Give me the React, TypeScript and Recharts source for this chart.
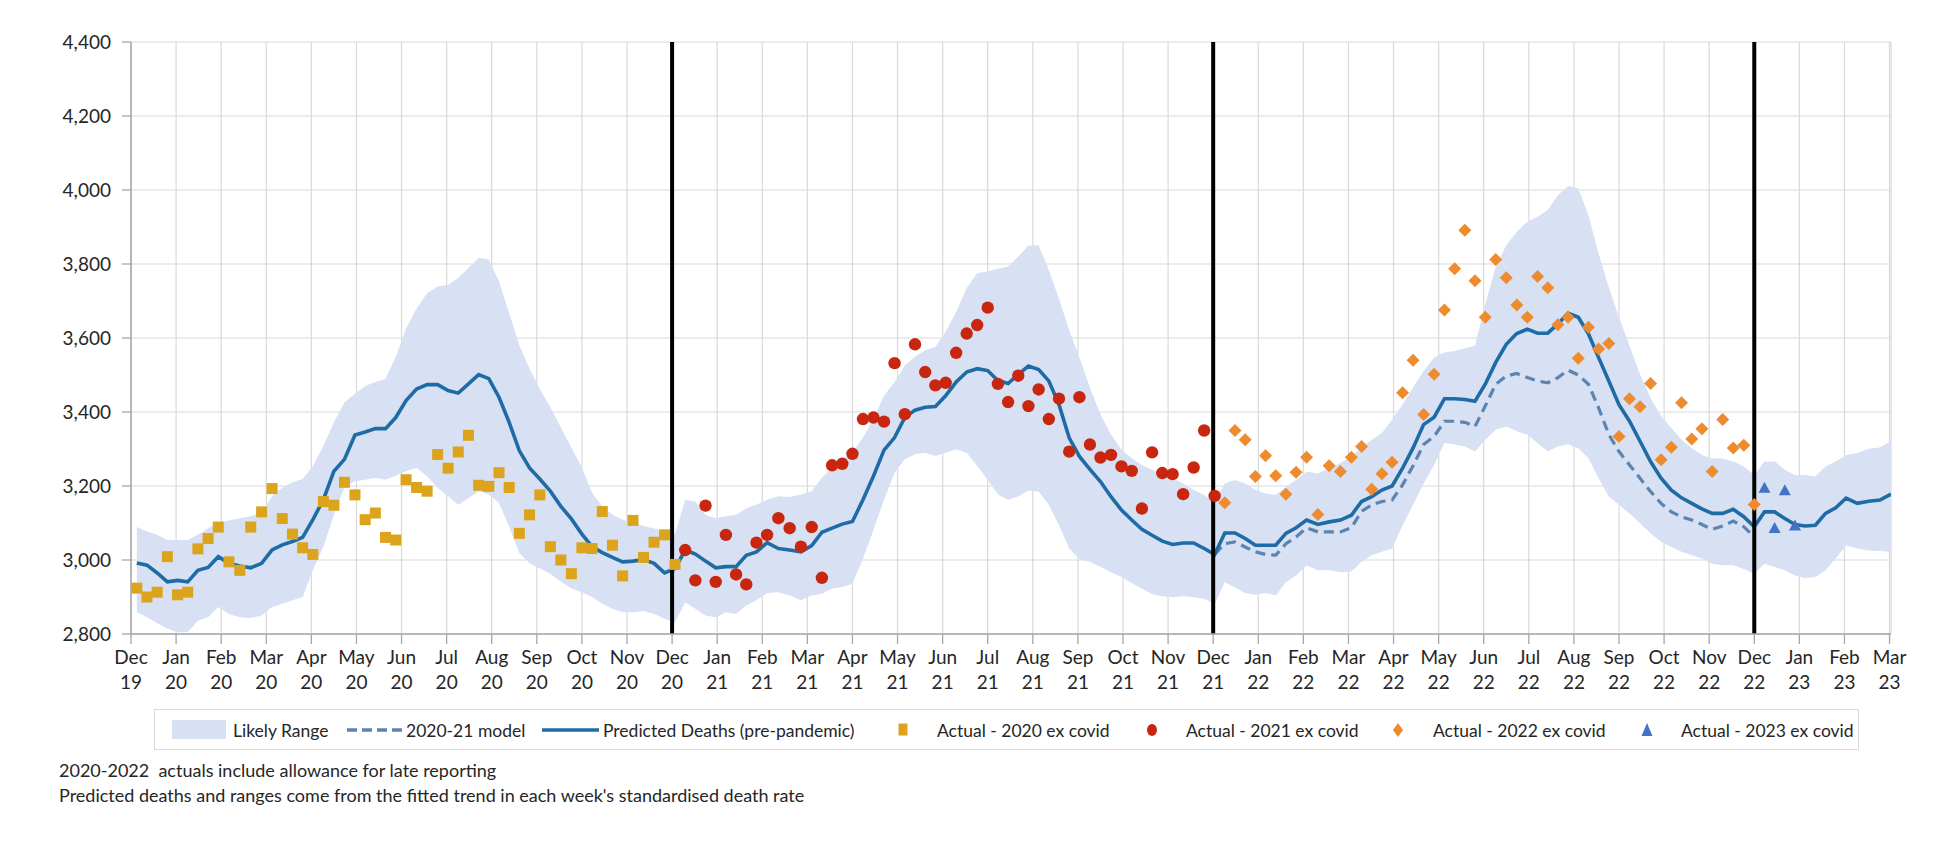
import React from 'react';
import { ComposedChart, Area, Line, Scatter, XAxis, YAxis, CartesianGrid, ReferenceLine } from 'recharts';

const FONT = "Lato, 'Noto Sans', sans-serif";

// Tick labels (one per month, Dec 2019 .. Mar 2023)
const TICK_MONTHS = [
  'Dec', 'Jan', 'Feb', 'Mar', 'Apr', 'May', 'Jun', 'Jul', 'Aug', 'Sep', 'Oct', 'Nov',
  'Dec', 'Jan', 'Feb', 'Mar', 'Apr', 'May', 'Jun', 'Jul', 'Aug', 'Sep', 'Oct', 'Nov',
  'Dec', 'Jan', 'Feb', 'Mar', 'Apr', 'May', 'Jun', 'Jul', 'Aug', 'Sep', 'Oct', 'Nov',
  'Dec', 'Jan', 'Feb', 'Mar',
];
const TICK_YEARS = [
  '19', '20', '20', '20', '20', '20', '20', '20', '20', '20', '20', '20',
  '20', '21', '21', '21', '21', '21', '21', '21', '21', '21', '21', '21',
  '21', '22', '22', '22', '22', '22', '22', '22', '22', '22', '22', '22',
  '22', '23', '23', '23',
];
const Y_TICKS = [2800, 3000, 3200, 3400, 3600, 3800, 4000, 4200, 4400];
const YEAR_BREAK_TICKS = [12, 24, 36]; // Dec 20, Dec 21, Dec 22

// First plotted week (UTC date), then one value per week
const FIRST_WEEK = { year: 2019, month: 11, day: 5 };

const PREDICTED = [
  2992, 2986, 2965, 2941, 2945, 2941, 2972, 2980, 3009, 2991, 2984, 2979, 2991, 3027, 3041, 3050, 3061, 3109, 3163, 3240,
  3272, 3338, 3346, 3355, 3355, 3385, 3431, 3462, 3474, 3474, 3458, 3451, 3476, 3501, 3490, 3440, 3372, 3295, 3249, 3219,
  3186, 3145, 3111, 3070,
  3036, 3020, 3007, 2995, 2997, 3001, 2991, 2965, 2977, 3027, 3016, 2997, 2979, 2982, 2982, 3013, 3022, 3047, 3031, 3027,
  3022, 3039, 3075, 3086, 3097, 3104, 3163, 3227, 3297, 3331, 3385, 3405, 3413, 3415, 3444, 3481, 3508, 3517, 3512, 3485,
  3477, 3502, 3524,
  3515, 3484, 3420, 3330, 3280, 3245, 3212, 3171, 3135, 3108, 3083, 3067, 3051, 3042, 3046, 3046, 3031, 3015, 3073, 3073,
  3058, 3040, 3040, 3040, 3072, 3087, 3108, 3096, 3103, 3108, 3121, 3158, 3171, 3189, 3200, 3248, 3303, 3366, 3386, 3436,
  3436, 3434,
  3429, 3475, 3534, 3583, 3612, 3624, 3613, 3613, 3638, 3667, 3656, 3611, 3547, 3484, 3420, 3375, 3321, 3266, 3221, 3189,
  3168, 3153, 3138, 3126, 3126, 3137, 3117, 3090, 3130, 3130, 3112, 3096, 3092, 3094, 3126, 3141, 3167, 3153, 3159, 3162,
  3178,
];

const RANGE_UPPER = [
  3089, 3077, 3068, 3054, 3054, 3054, 3068, 3086, 3101, 3107, 3113, 3118, 3129, 3172, 3195, 3210, 3219, 3254, 3308, 3372,
  3426, 3449, 3470, 3481, 3490, 3549, 3626, 3680, 3721, 3739, 3744, 3762, 3789, 3816, 3812, 3753, 3667, 3580, 3517, 3462,
  3413, 3358, 3304, 3250,
  3181, 3145, 3122, 3109, 3100, 3092, 3085, 3078, 3070, 3163, 3158, 3122, 3113, 3118, 3122, 3140, 3149, 3163, 3172, 3170,
  3177, 3186, 3222, 3249, 3272, 3290, 3331, 3381, 3444, 3481, 3526, 3549, 3567, 3576, 3617, 3671, 3735, 3776, 3780, 3787,
  3793, 3820, 3850,
  3851, 3783, 3706, 3620, 3547, 3466, 3393, 3339, 3298, 3275, 3257, 3244, 3230, 3221, 3207, 3189, 3176, 3158, 3207, 3216,
  3207, 3189, 3180, 3176, 3198, 3216, 3239, 3234, 3248, 3262, 3280, 3303, 3325, 3343, 3380, 3420, 3466, 3511, 3547, 3561,
  3565, 3572,
  3579, 3692, 3792, 3851, 3887, 3914, 3928, 3946, 3986, 4011, 4005, 3932, 3828, 3737, 3656, 3579, 3502, 3438, 3389, 3357,
  3325, 3303, 3284, 3275, 3274, 3266, 3253, 3230, 3266, 3266, 3244, 3230, 3230, 3226, 3253, 3266, 3284, 3289, 3301, 3304,
  3322,
];

const RANGE_LOWER = [
  2859, 2845, 2829, 2814, 2805, 2805, 2836, 2845, 2873, 2854, 2845, 2843, 2850, 2873, 2882, 2891, 2900, 2972, 3036, 3122,
  3195, 3213, 3217, 3222, 3217, 3228, 3240, 3249, 3226, 3195, 3172, 3149, 3167, 3186, 3177, 3154, 3090, 3018, 2991, 2977,
  2963, 2941, 2923, 2913,
  2900, 2882, 2868, 2859, 2859, 2862, 2854, 2841, 2832, 2886, 2868, 2850, 2845, 2859, 2854, 2877, 2891, 2911, 2913, 2904,
  2891, 2904, 2909, 2923, 2927, 2936, 3004, 3081, 3163, 3236, 3272, 3286, 3290, 3281, 3290, 3299, 3290, 3254, 3217, 3177,
  3163, 3172, 3188,
  3185, 3149, 3094, 3031, 3002, 2995, 2981, 2967, 2954, 2938, 2922, 2908, 2902, 2899, 2902, 2899, 2895, 2881, 2940, 2926,
  2911, 2906, 2911, 2904, 2940, 2958, 2986, 2972, 2972, 2967, 2969, 2995, 3013, 3022, 3031, 3094, 3149, 3207, 3257, 3316,
  3312, 3307,
  3293, 3325, 3352, 3361, 3348, 3339, 3316, 3293, 3307, 3313, 3302, 3275, 3221, 3171, 3149, 3126, 3099, 3072, 3049, 3035,
  3022, 3013, 3004, 2990, 2986, 2986, 2976, 2963, 2990, 2981, 2972, 2958, 2951, 2954, 2972, 3004, 3040, 3031, 3026, 3024,
  3022,
];

// 2020-21 model (dashed), weeks 104..156
const MODEL_START_WEEK = 104;
const MODEL_2021 = [
  3015, 3044, 3049, 3035, 3022, 3015, 3013, 3044, 3062, 3087, 3076, 3076, 3076, 3087, 3132, 3149, 3158, 3162, 3203, 3255,
  3312, 3334, 3375, 3375, 3372, 3361, 3416, 3475, 3497, 3504, 3493, 3484, 3479, 3493, 3513, 3500, 3475, 3411, 3339, 3293,
  3257, 3221, 3185, 3153, 3130, 3117, 3108, 3096, 3083, 3092, 3105, 3090, 3062,
];

// Actual deaths ex covid
const ACTUAL_2020_START = 0;
const ACTUAL_2020 = [
  2924, 2900, 2913, 3009, 2906, 2913, 3030, 3058, 3089, 2995, 2972, 3089, 3130, 3193, 3112, 3070, 3033, 3015, 3158, 3148,
  3210, 3176, 3109, 3127, 3061, 3054, 3217, 3196, 3186, 3285, 3248, 3292, 3337, 3202, 3199, 3236, 3196, 3072, 3122, 3176,
  3036, 3000, 2963, 3033, 3031, 3131, 3040, 2957, 3107, 3007, 3048, 3068, 2988,
];
const ACTUAL_2021_START = 53;
const ACTUAL_2021 = [
  3027, 2945, 3147, 2941, 3068, 2961, 2934, 3047, 3068, 3113, 3086, 3036, 3089, 2952, 3256, 3260, 3287, 3381, 3385, 3374,
  3532, 3394, 3583, 3508, 3472, 3479, 3560, 3612, 3635, 3682, 3476, 3427, 3498, 3416, 3461, 3381, 3436, 3293, 3440, 3312,
  3277, 3284, 3253, 3241, 3139, 3291, 3235, 3232, 3178, 3250, 3350, 3173,
];
const ACTUAL_2022_START = 105;
const ACTUAL_2022 = [
  3155, 3350, 3325, 3226, 3282, 3228, 3178, 3237, 3278, 3123, 3255, 3239, 3278, 3307, 3191, 3233, 3264, 3452, 3540, 3393,
  3502, 3676, 3787, 3891, 3755, 3656, 3812, 3763, 3689, 3656, 3766, 3736, 3636, 3656, 3545, 3629, 3570, 3585, 3334, 3436,
  3414, 3477, 3271, 3305, 3425, 3327, 3355, 3239, 3380, 3303, 3310, 3150,
];
const ACTUAL_2023_START = 157;
const ACTUAL_2023 = [3194, 3085, 3187, 3092];

const COLORS = {
  band: '#D7E1F3',
  predicted: '#1F6BA5',
  model: '#5B84B1',
  a2020: '#DBA41C',
  a2021: '#C9260F',
  a2022: '#ED8B2E',
  a2023: '#4472C4',
  grid: '#D9D9D9',
  axis: '#A6A6A6',
  text: '#262626',
};

// Convert week index into a fractional month position (Dec 2019 = 0)
function weekToX(w: number): number {
  const d = new Date(Date.UTC(FIRST_WEEK.year, FIRST_WEEK.month, FIRST_WEEK.day + 7 * w));
  const y = d.getUTCFullYear();
  const m = d.getUTCMonth();
  const day = d.getUTCDate();
  const dim = new Date(Date.UTC(y, m + 1, 0)).getUTCDate();
  return (y - 2019) * 12 + (m - 11) + (day - 1) / dim;
}

const rows = PREDICTED.map((p, w) => {
  const mi = w - MODEL_START_WEEK;
  return {
    x: weekToX(w),
    pred: p,
    band: [RANGE_LOWER[w], RANGE_UPPER[w]],
    model: mi >= 0 && mi < MODEL_2021.length ? MODEL_2021[mi] : null,
  };
});

const toPoints = (vals: number[], start: number) => vals.map((v, i) => ({ x: weekToX(start + i), y: v }));
const pts2020 = toPoints(ACTUAL_2020, ACTUAL_2020_START);
const pts2021 = toPoints(ACTUAL_2021, ACTUAL_2021_START);
const pts2022 = toPoints(ACTUAL_2022, ACTUAL_2022_START);
const pts2023 = toPoints(ACTUAL_2023, ACTUAL_2023_START);

const X_MAX = rows[rows.length - 1].x;
const X_TICKS = TICK_MONTHS.map((_, i) => i);

const SquareShape = (p: any) => <rect x={p.cx - 5.5} y={p.cy - 5.5} width={11} height={11} fill={COLORS.a2020} />;
const CircleShape = (p: any) => <circle cx={p.cx} cy={p.cy} r={6.2} fill={COLORS.a2021} />;
const DiamondShape = (p: any) => (
  <polygon points={`${p.cx},${p.cy - 6.5} ${p.cx + 6.5},${p.cy} ${p.cx},${p.cy + 6.5} ${p.cx - 6.5},${p.cy}`} fill={COLORS.a2022} />
);
const TriangleShape = (p: any) => (
  <polygon points={`${p.cx},${p.cy - 6.5} ${p.cx + 6},${p.cy + 4.5} ${p.cx - 6},${p.cy + 4.5}`} fill={COLORS.a2023} />
);

const MonthTick = (props: any) => {
  const { x, y, payload } = props;
  const k = payload.value as number;
  return (
    <g transform={`translate(${x},${y})`}>
      <text textAnchor="middle" fill={COLORS.text} fontSize={19} fontFamily={FONT}>
        <tspan x={0} dy="0.85em">{TICK_MONTHS[k]}</tspan>
        <tspan x={0} dy="1.33em">{TICK_YEARS[k]}</tspan>
      </text>
    </g>
  );
};

const LEGEND_ITEMS = [
  { label: 'Likely Range', kind: 'band', at: 17, textAt: 78 },
  { label: '2020-21 model', kind: 'dash', at: 192, textAt: 251 },
  { label: 'Predicted Deaths (pre-pandemic)', kind: 'line', at: 387, textAt: 448 },
  { label: 'Actual - 2020 ex covid', kind: 'square', at: 748, textAt: 782 },
  { label: 'Actual - 2021 ex covid', kind: 'circle', at: 997, textAt: 1031 },
  { label: 'Actual - 2022 ex covid', kind: 'diamond', at: 1243, textAt: 1278 },
  { label: 'Actual - 2023 ex covid', kind: 'triangle', at: 1492, textAt: 1526 },
];

function LegendBox() {
  const cy = 20;
  return (
    <div style={{ position: 'absolute', left: 154, top: 709, width: 1705, height: 41, border: '1px solid #D9D9D9', boxSizing: 'border-box', background: '#fff' }}>
      <svg width={1703} height={39} style={{ display: 'block' }}>
        {LEGEND_ITEMS.map((it) => (
          <g key={it.label}>
            {it.kind === 'band' && <rect x={it.at} y={cy - 10} width={54} height={19} fill={COLORS.band} />}
            {it.kind === 'dash' && <line x1={it.at} x2={it.at + 56} y1={cy} y2={cy} stroke={COLORS.model} strokeWidth={3.5} strokeDasharray="10 5" />}
            {it.kind === 'line' && <line x1={it.at} x2={it.at + 57} y1={cy} y2={cy} stroke={COLORS.predicted} strokeWidth={3.5} />}
            {it.kind === 'square' && <rect x={it.at - 4.5} y={cy - 6.5} width={9} height={12} fill={COLORS.a2020} />}
            {it.kind === 'circle' && <ellipse cx={it.at} cy={cy} rx={5} ry={6} fill={COLORS.a2021} />}
            {it.kind === 'diamond' && (
              <polygon points={`${it.at},${cy - 7} ${it.at + 5},${cy} ${it.at},${cy + 7} ${it.at - 5},${cy}`} fill={COLORS.a2022} />
            )}
            {it.kind === 'triangle' && (
              <polygon points={`${it.at},${cy - 7} ${it.at + 5.5},${cy + 6} ${it.at - 5.5},${cy + 6}`} fill={COLORS.a2023} />
            )}
            <text x={it.textAt} y={cy} dominantBaseline="central" fontSize={17.5} fontFamily={FONT} fill={COLORS.text}>
              {it.label}
            </text>
          </g>
        ))}
      </svg>
    </div>
  );
}

const FOOTNOTES = [
  '2020-2022  actuals include allowance for late reporting',
  "Predicted deaths and ranges come from the fitted trend in each week's standardised death rate",
];

export default function App() {
  return (
    <div style={{ position: 'absolute', left: 0, top: 0, width: 1954, height: 846, background: '#fff', fontFamily: FONT }}>
      <ComposedChart
        width={1954}
        height={700}
        data={rows}
        margin={{ top: 42, right: 63, bottom: 0, left: 0 }}
      >
        <CartesianGrid stroke={COLORS.grid} strokeWidth={1.2} />
        <XAxis
          type="number"
          dataKey="x"
          domain={[0, X_MAX]}
          ticks={X_TICKS}
          interval={0}
          allowDataOverflow
          tick={<MonthTick />}
          tickLine={{ stroke: COLORS.axis, strokeWidth: 1.3 }}
          axisLine={{ stroke: COLORS.axis, strokeWidth: 1.5 }}
          tickSize={10}
          tickMargin={4}
          height={66}
        />
        <YAxis
          type="number"
          domain={[2800, 4400]}
          ticks={Y_TICKS}
          interval={0}
          allowDataOverflow
          width={131}
          tickSize={9}
          tickMargin={11}
          tickLine={{ stroke: COLORS.axis, strokeWidth: 1.3 }}
          axisLine={{ stroke: COLORS.axis, strokeWidth: 1.5 }}
          tick={{ fill: COLORS.text, fontSize: 19, fontFamily: FONT }}
          tickFormatter={(v: number) => v.toLocaleString('en-US')}
        />
        <Area
          type="linear"
          dataKey="band"
          fill={COLORS.band}
          fillOpacity={1}
          stroke="none"
          isAnimationActive={false}
          activeDot={false}
        />
        <Line
          type="linear"
          dataKey="model"
          stroke={COLORS.model}
          strokeWidth={3.2}
          strokeDasharray="10 6"
          dot={false}
          activeDot={false}
          connectNulls={false}
          isAnimationActive={false}
        />
        <Line
          type="linear"
          dataKey="pred"
          stroke={COLORS.predicted}
          strokeWidth={3.6}
          dot={false}
          activeDot={false}
          isAnimationActive={false}
        />
        {YEAR_BREAK_TICKS.map((t) => (
          <ReferenceLine key={t} x={t} stroke="#000" strokeWidth={4} />
        ))}
        <Scatter data={pts2020} dataKey="y" shape={SquareShape} isAnimationActive={false} />
        <Scatter data={pts2021} dataKey="y" shape={CircleShape} isAnimationActive={false} />
        <Scatter data={pts2022} dataKey="y" shape={DiamondShape} isAnimationActive={false} />
        <Scatter data={pts2023} dataKey="y" shape={TriangleShape} isAnimationActive={false} />
      </ComposedChart>
      <LegendBox />
      <div style={{ position: 'absolute', left: 59, top: 758, fontSize: 18, lineHeight: '25px', color: COLORS.text, whiteSpace: 'pre', fontFamily: FONT }}>
        {FOOTNOTES.map((f) => (
          <div key={f}>{f}</div>
        ))}
      </div>
    </div>
  );
}
